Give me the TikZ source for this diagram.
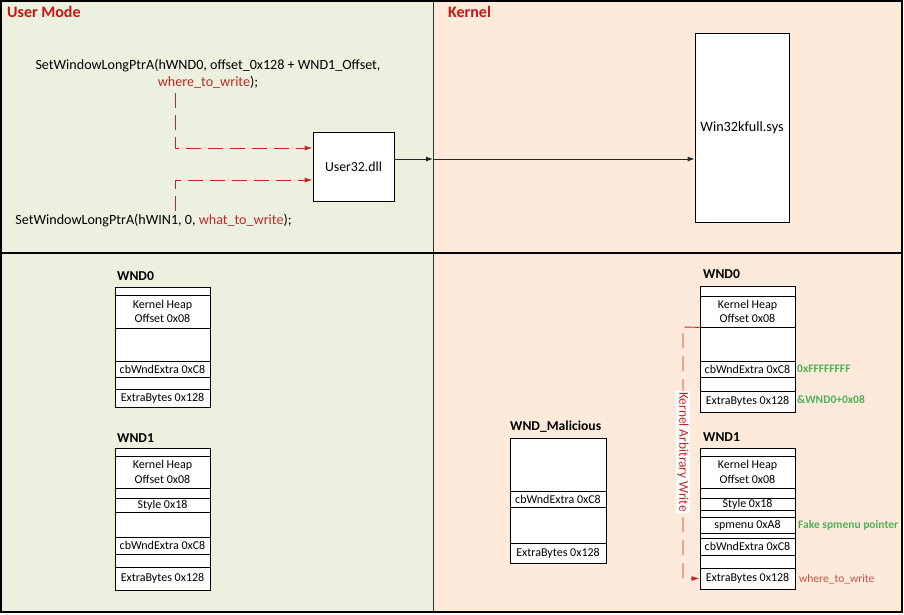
\documentclass[tikz,border=0pt]{standalone}
\usepackage{fontspec}
\setmainfont{Carlito}
\usetikzlibrary{arrows.meta,calc}
\definecolor{umfill}{RGB}{235,241,222}
\definecolor{kfill}{RGB}{253,234,218}
\definecolor{titlered}{RGB}{200,20,20}
\definecolor{codered}{RGB}{192,40,40}
\definecolor{okgreen}{RGB}{80,176,90}
\definecolor{wtwred}{RGB}{200,80,70}
\newcommand\memrow[6]{\node[memrow, minimum width={(#3-#2)*1pt}, minimum height={(#5-#4)*1pt}] (#1) at ({(#2+#3)/2},{(#4+#5)/2}) {#6};}
\tikzset{
  memrow/.style={draw=black, line width=0.8pt, fill=white, inner sep=0pt, align=center,
    font=\fontsize{12}{14.5}\selectfont},
  title/.style={anchor=west, inner sep=0pt, text=titlered, font=\fontsize{16}{19}\selectfont\bfseries},
  wndlabel/.style={anchor=west, inner sep=0pt, font=\fontsize{13.6}{16}\selectfont\bfseries},
  code/.style={inner sep=0pt, align=center, font=\fontsize{14.1}{16.5}\selectfont},
  sidenote/.style={anchor=west, inner sep=0pt, font=\fontsize{11.5}{14}\selectfont},
  bigbox/.style={draw=black, line width=0.8pt, fill=white, inner sep=0pt, font=\fontsize{13.8}{16}\selectfont},
  reddash/.style={draw=codered, line width=0.9pt, dash pattern=on 15pt off 7pt,
    -{Latex[length=8pt,width=5pt]}},
  blackarrow/.style={draw=black!85, line width=0.9pt, -{Latex[length=7pt,width=5pt]}},
}
\begin{document}
\begin{tikzpicture}[x=1pt,y=-1pt]
\useasboundingbox (0,0) rectangle (904,614);
% panels
\fill[umfill] (1,1) rectangle (433,612);
\fill[kfill] (433,1) rectangle (902,612);
\draw[black!80, line width=0.8pt] (433,1) -- (433,612);
\draw[black, line width=1.8pt] (1,253) -- (902,253);
\draw[black, line width=1.2pt] (1,1) rectangle (902,612);
% titles
\node[title] (tum) at (7,12) {User Mode};
\node[title] (tk) at (448,12) {Kernel};
% code texts
\node[code] (c1) at (208,74) {SetWindowLongPtrA(hWND0, offset\_0x128 + WND1\_Offset,\\\textcolor{codered}{where\_to\_write});};
\node[code] (c2) at (153.5,221) {SetWindowLongPtrA(hWIN1, 0, \textcolor{codered}{what\_to\_write});};
% boxes
\node[bigbox, minimum width=81pt, minimum height=69pt] (u32) at (353.5,166.5) {User32.dll};
\node[bigbox, minimum width=94pt, minimum height=189pt] (w32) at (742,127.5) {};
\node[inner sep=0pt, font=\fontsize{14.2}{16}\selectfont] (w32t) at (742,128) {Win32kfull.sys};
% dashed call arrows
\coordinate (s1) at (175,93);
\coordinate (s2) at (175,211);
\coordinate (t1) at ($(u32.west)+(0,-18.5)$);
\coordinate (t2) at ($(u32.west)+(0,13.5)$);
\draw[reddash] (s1) |- (t1);
\draw[reddash] (s2) |- (t2);
% black arrows
\coordinate (mid) at (433,159);
\draw[blackarrow] (u32.east |- mid) -- (mid);
\draw[blackarrow] (mid) -- (w32.west |- mid);
% left WND0
\node[wndlabel] (lw0) at (117,276) {WND0};
\memrow{lw0a}{115}{210}{287}{295}{}
\memrow{lw0b}{115}{210}{295}{328}{Kernel Heap\\Offset 0x08}
\memrow{lw0c}{115}{210}{328}{361}{}
\memrow{lw0d}{115}{210}{361}{377}{cbWndExtra 0xC8}
\memrow{lw0e}{115}{210}{377}{389}{}
\memrow{lw0f}{115}{210}{389}{407}{ExtraBytes 0x128}
% left WND1
\node[wndlabel] (lw1) at (117,438) {WND1};
\memrow{lw1a}{115}{210}{448}{456}{}
\memrow{lw1b}{115}{210}{456}{488}{Kernel Heap\\Offset 0x08}
\memrow{lw1c}{115}{210}{488}{498}{}
\memrow{lw1d}{115}{210}{498}{512}{Style 0x18}
\memrow{lw1e}{115}{210}{512}{537}{}
\memrow{lw1f}{115}{210}{537}{554}{cbWndExtra 0xC8}
\memrow{lw1g}{115}{210}{554}{567}{}
\memrow{lw1h}{115}{210}{567}{590}{ExtraBytes 0x128}
% WND_Malicious
\node[wndlabel] (wm) at (510,427) {WND\_Malicious};
\memrow{wma}{510}{606}{438}{491}{}
\memrow{wmb}{510}{606}{491}{507}{cbWndExtra 0xC8}
\memrow{wmc}{510}{606}{507}{543}{}
\memrow{wmd}{510}{606}{543}{563}{ExtraBytes 0x128}
% right WND0
\node[wndlabel] (rw0) at (703,274) {WND0};
\memrow{rw0a}{700}{795}{286}{296}{}
\memrow{rw0b}{700}{795}{296}{327}{Kernel Heap\\Offset 0x08}
\memrow{rw0c}{700}{795}{327}{361}{}
\memrow{rw0d}{700}{795}{361}{377}{cbWndExtra 0xC8}
\memrow{rw0e}{700}{795}{377}{391}{}
\memrow{rw0f}{700}{795}{391}{412}{ExtraBytes 0x128}
\node[sidenote, text=okgreen] (n1) at (797,369) {\textbf{0xFFFFFFFF}};
\node[sidenote, text=okgreen] (n2) at (797,400) {\textbf{\&WND0+0x08}};
% right WND1
\node[wndlabel] (rw1) at (703,437) {WND1};
\memrow{rw1a}{700}{795}{448}{456}{}
\memrow{rw1b}{700}{795}{456}{488}{Kernel Heap\\Offset 0x08}
\memrow{rw1c}{700}{795}{488}{498}{}
\memrow{rw1d}{700}{795}{498}{510}{Style 0x18}
\memrow{rw1e}{700}{795}{510}{517}{}
\memrow{rw1f}{700}{795}{517}{533}{spmenu 0xA8}
\memrow{rw1g}{700}{795}{533}{538}{}
\memrow{rw1h}{700}{795}{538}{555}{cbWndExtra 0xC8}
\memrow{rw1i}{700}{795}{555}{568}{}
\memrow{rw1j}{700}{795}{568}{589}{ExtraBytes 0x128}
\node[sidenote, text=okgreen] (n3) at (798,525) {\textbf{Fake spmenu pointer}};
\node[sidenote, text=wtwred] (n4) at (799,579) {where\_to\_write};
% arbitrary write
\coordinate (kaw) at (683,327);
\draw[draw=codered, line width=0.9pt, dash pattern=on 15pt off 8pt, -{Latex[length=8pt,width=5pt]}]
  (rw0b.south west) -- (kaw) |- (rw1j.west);
\node[rotate=-90, fill=white, inner sep=1pt, text=codered, font=\fontsize{13.4}{16}\selectfont] (kawl) at (683,452) {Kernel Arbitrary Write};
\end{tikzpicture}
\end{document}
